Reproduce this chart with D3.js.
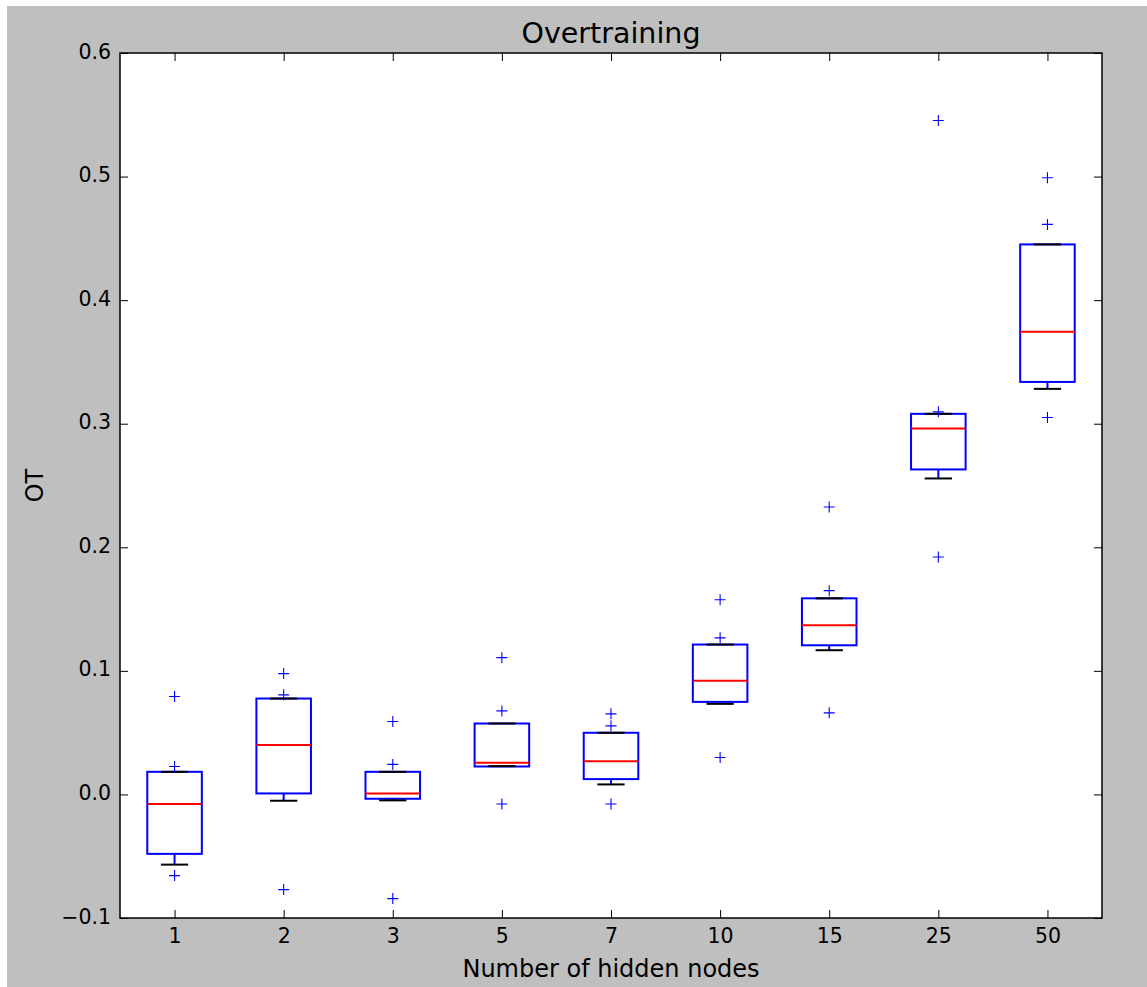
<!DOCTYPE html>
<html>
<head>
<meta charset="utf-8">
<script src="https://cdn.jsdelivr.net/npm/d3@7"></script>
<style>
  html, body { margin: 0; padding: 0; background: #ffffff; }
  svg { display: block; font-family: "DejaVu Sans", sans-serif; }
</style>
</head>
<body>
<svg id="chart" width="1147" height="987"></svg>
<script>
// ---- data ----
const categories = ["1", "2", "3", "5", "7", "10", "15", "25", "50"];
const q1Values     = [-0.0481, 0.0008, -0.0035, 0.0226, 0.0124, 0.0749, 0.1207, 0.2630, 0.3338];
const medianValues = [-0.0078, 0.0399, 0.0008, 0.0256, 0.0269, 0.0919, 0.1369, 0.2961, 0.3745];
const q3Values     = [0.0183, 0.0776, 0.0183, 0.0574, 0.0499, 0.1213, 0.1587, 0.3080, 0.4451];
const whiskerLow   = [-0.0568, -0.0051, -0.0048, 0.0229, 0.0081, 0.0733, 0.1167, 0.2557, 0.3282];
const whiskerHigh  = [0.0183, 0.0776, 0.0183, 0.0574, 0.0499, 0.1213, 0.1587, 0.3080, 0.4451];
const fliers = [
  [0.0792, 0.0226, -0.0657],
  [0.0978, 0.0806, -0.0770],
  [0.0590, 0.0243, -0.0843],
  [0.1107, 0.0676, -0.0078],
  [0.0652, 0.0555, -0.0078],
  [0.1576, 0.1267, 0.0299],
  [0.2326, 0.1649, 0.0660],
  [0.5454, 0.3096, 0.1921],
  [0.4990, 0.4613, 0.3050]
];
const yTicks = [-0.1, 0.0, 0.1, 0.2, 0.3, 0.4, 0.5, 0.6];
const titleText = "Overtraining";
const xLabelText = "Number of hidden nodes";
const yLabelText = "OT";

(function () {
// ---- layout ----
const W = 1147, H = 987;
const pL = 120, pR = 1102, pT = 53, pB = 918;
const svg = d3.select("#chart");

svg.append("rect").attr("x", 7).attr("y", 6).attr("width", W - 7).attr("height", H - 6)
  .attr("fill", "#bfbfbf");
svg.append("rect").attr("x", pL).attr("y", pT).attr("width", pR - pL).attr("height", pB - pT)
  .attr("fill", "#ffffff");

const x = d3.scalePoint().domain(categories).range([pL, pR]).padding(0.5);
const y = d3.scaleLinear().domain([-0.1, 0.6]).range([pB, pT]);
const step = x.step();
const boxW = step * 0.5;
const capW = boxW * 0.5;

const fmt = v => d3.format(".1f")(v).replace("-", "\u2212");

const tickFont = 20.5;
const gLeft = svg.append("g").attr("transform", `translate(${pL},0)`)
  .call(d3.axisLeft(y).tickValues(yTicks).tickFormat(fmt).tickSize(-8).tickPadding(9));
const gRight = svg.append("g").attr("transform", `translate(${pR},0)`)
  .call(d3.axisRight(y).tickValues(yTicks).tickFormat("").tickSize(-8));
const gBottom = svg.append("g").attr("transform", `translate(0,${pB})`)
  .call(d3.axisBottom(x).tickSize(-8).tickPadding(10));
const gTop = svg.append("g").attr("transform", `translate(0,${pT})`)
  .call(d3.axisTop(x).tickFormat("").tickSize(-8));

[gLeft, gRight, gBottom, gTop].forEach(g => {
  g.select(".domain").remove();
  g.selectAll(".tick line").attr("stroke", "#000").attr("stroke-width", 1);
  g.selectAll(".tick text").attr("fill", "#000").attr("font-size", tickFont)
    .attr("font-family", "DejaVu Sans");
});
gLeft.selectAll(".tick text").attr("dy", "0.25em");

const data = categories.map((c, i) => ({
  c, q1: q1Values[i], med: medianValues[i], q3: q3Values[i],
  lo: whiskerLow[i], hi: whiskerHigh[i], fl: fliers[i]
}));

const g = svg.append("g");
data.forEach(d => {
  const cx = x(d.c);
  g.append("line").attr("x1", cx).attr("x2", cx).attr("y1", y(d.q1)).attr("y2", y(d.lo))
    .attr("stroke", "#0000ff").attr("stroke-width", 2);
  g.append("line").attr("x1", cx).attr("x2", cx).attr("y1", y(d.q3)).attr("y2", y(d.hi))
    .attr("stroke", "#0000ff").attr("stroke-width", 2);
  g.append("rect").attr("x", cx - boxW / 2).attr("y", y(d.q3))
    .attr("width", boxW).attr("height", y(d.q1) - y(d.q3))
    .attr("fill", "none").attr("stroke", "#0000ff").attr("stroke-width", 2);
  g.append("line").attr("x1", cx - boxW / 2).attr("x2", cx + boxW / 2)
    .attr("y1", y(d.med)).attr("y2", y(d.med))
    .attr("stroke", "#ff0000").attr("stroke-width", 2);
  [d.lo, d.hi].forEach(v => {
    g.append("line").attr("x1", cx - capW / 2).attr("x2", cx + capW / 2)
      .attr("y1", y(v)).attr("y2", y(v))
      .attr("stroke", "#000").attr("stroke-width", 2);
  });
  d.fl.forEach(v => {
    const py = y(v);
    g.append("path")
      .attr("d", `M${cx - 5.5},${py}H${cx + 5.5}M${cx},${py - 5.5}V${py + 5.5}`)
      .attr("stroke", "#0000ff").attr("stroke-width", 1.1).attr("fill", "none");
  });
});

svg.append("rect").attr("x", pL).attr("y", pT).attr("width", pR - pL).attr("height", pB - pT)
  .attr("fill", "none").attr("stroke", "#000").attr("stroke-width", 1.5);

svg.append("text").attr("x", (pL + pR) / 2).attr("y", 43)
  .attr("text-anchor", "middle").attr("font-size", 28.5).attr("fill", "#000")
  .text(titleText);
svg.append("text").attr("x", (pL + pR) / 2).attr("y", 977)
  .attr("text-anchor", "middle").attr("font-size", 24).attr("fill", "#000")
  .text(xLabelText);
svg.append("text").attr("transform", `translate(43,${(pT + pB) / 2}) rotate(-90)`)
  .attr("text-anchor", "middle").attr("font-size", 24).attr("fill", "#000")
  .text(yLabelText);
})();
</script>
</body>
</html>
